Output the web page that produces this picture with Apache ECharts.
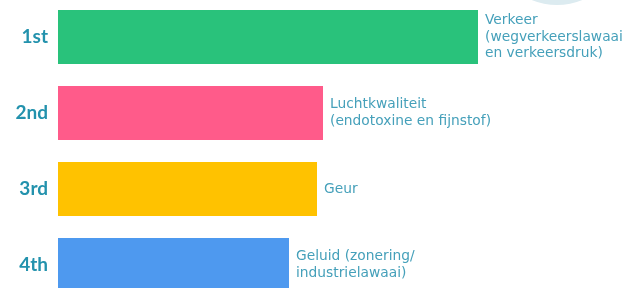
<!DOCTYPE html>
<html>
<head>
<meta charset="utf-8">
<script src="https://cdn.jsdelivr.net/npm/echarts@6/dist/echarts.min.js"></script>
<style>
  html, body { margin: 0; padding: 0; background: #fff; }
  #myChart { width: 628px; height: 288px; }
</style>
</head>
<body>
<div id="myChart"></div>
<script>
  // rangorde en onderwerpen
  const ranks = ['1st', '2nd', '3rd', '4th']
  const topics = [
    'Verkeer\n(wegverkeerslawaai\nen verkeersdruk)',
    'Luchtkwaliteit\n(endotoxine en fijnstof)',
    'Geur',
    'Geluid (zonering/\nindustrielawaai)'
  ]
  const scores = [420, 265, 259, 231]
  const colors = ['#29c27b', '#ff5b8a', '#ffc200', '#4e99ef']

  const myChart = echarts.init(document.getElementById('myChart'))
  myChart.setOption({
    animation: false,
    grid: { left: 58, top: -1, width: 500, height: 304, outerBoundsMode: 'none' },
    graphic: [{
      type: 'circle',
      shape: { cx: 557, cy: -62, r: 67 },
      style: { fill: '#dcebf0' },
      z: -1
    }],
    xAxis: {
      type: 'value',
      min: 0,
      max: 500,
      show: false
    },
    yAxis: {
      type: 'category',
      inverse: true,
      data: ranks,
      axisLine: { show: false },
      axisTick: { show: false },
      axisLabel: {
        margin: 10,
        fontSize: 19,
        fontFamily: 'Lato',
        fontWeight: 'bold',
        color: '#2392ad'
      }
    },
    series: [{
      type: 'bar',
      barWidth: 54,
      data: scores.map((v, i) => ({
        value: v,
        itemStyle: { color: colors[i] },
        label: { formatter: topics[i] }
      })),
      label: {
        show: true,
        position: 'right',
        distance: 7,
        fontSize: 13.8,
        lineHeight: 16.5,
        fontFamily: 'DejaVu Sans',
        color: '#45a0ba'
      }
    }]
  })
</script>
</body>
</html>
